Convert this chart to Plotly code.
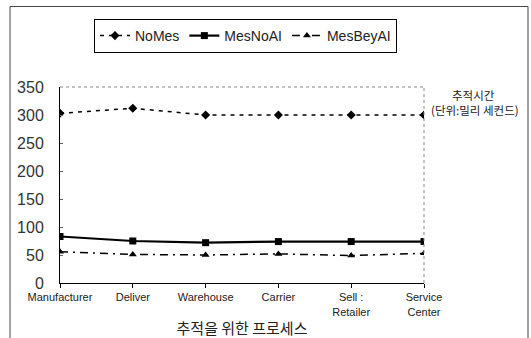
import plotly.graph_objects as go

categories = ["Manufacturer", "Deliver", "Warehouse", "Carrier", "Sell :<br>Retailer", "Service<br>Center"]
no_mes = [303, 312, 300, 300, 300, 300]
mes_no_ai = [83, 75, 72, 74, 74, 74]
mes_bey_ai = [56, 51, 50, 52, 49, 53]
y_ticks = [0, 50, 100, 150, 200, 250, 300, 350]

xs = list(range(len(categories)))
fig = go.Figure()
fig.add_trace(go.Scatter(x=xs, y=no_mes, name="NoMes", mode="lines+markers",
                         line=dict(color="black", width=1.5, dash="4px,5px"),
                         marker=dict(symbol="diamond", size=7, color="black")))
fig.add_trace(go.Scatter(x=xs, y=mes_no_ai, name="MesNoAI", mode="lines+markers",
                         line=dict(color="black", width=2.2),
                         marker=dict(symbol="square", size=7, color="black")))
fig.add_trace(go.Scatter(x=xs, y=mes_bey_ai, name="MesBeyAI", mode="lines+markers",
                         line=dict(color="black", width=1.5, dash="8px,5px,2px,5px"),
                         marker=dict(symbol="triangle-up", size=7, color="black")))

fig.update_layout(
    width=531, height=338,
    margin=dict(l=60, r=107, t=87, b=55, autoexpand=False),
    paper_bgcolor="white", plot_bgcolor="white",
    font=dict(family="Arial, Liberation Sans, sans-serif", color="#222"),
    showlegend=True,
    legend=dict(orientation="h", x=(94 - 60) / 364, y=1 + (87 - 19) / 196,
                xref="paper", yref="paper",
                xanchor="left", yanchor="top",
                bordercolor="black", borderwidth=1, bgcolor="white",
                font=dict(size=14), itemwidth=30, tracegroupgap=0),
    xaxis=dict(range=[0, 5], tickmode="array", tickvals=xs, ticktext=categories,
               showgrid=False, zeroline=False, showline=True, linecolor="black",
               linewidth=1, ticks="outside", ticklen=4, tickcolor="black",
               automargin=False,
               tickfont=dict(size=11, family="Arial, Liberation Sans", color="#222"),
               title=dict(text="추적을 위한 프로세스", standoff=6,
                          font=dict(size=15, family="Noto Sans CJK KR"))),
    yaxis=dict(range=[0, 350], tickvals=y_ticks, showgrid=False, zeroline=False,
               showline=True, linecolor="black", linewidth=1,
               ticks="inside", ticklen=3, tickcolor="#666", automargin=False,
               ticklabelstandoff=12,
               tickfont=dict(size=16, color="#333")),
)
# dotted top and right borders of plot area
fig.add_shape(type="line", xref="paper", yref="paper", x0=0, x1=1, y0=1, y1=1,
              line=dict(color="#888", width=1, dash="dot"))
fig.add_shape(type="line", xref="paper", yref="paper", x0=1, x1=1, y0=0, y1=1,
              line=dict(color="#888", width=1, dash="dot"))
# outer frame
fig.add_shape(type="rect", xref="paper", yref="paper",
              x0=(10 - 60) / 364, x1=(528 - 60) / 364,
              y0=-70 / 196, y1=1 + (87 - 6.5) / 196,
              line=dict(color="#444", width=1), fillcolor="rgba(0,0,0,0)", layer="below")
fig.add_annotation(text="추적시간", xref="paper", yref="paper",
                   x=(473 - 60) / 364, y=1 - (95 - 87) / 196, xanchor="center", yanchor="middle",
                   showarrow=False, font=dict(size=11.5, family="Noto Sans CJK KR", color="#222"))
fig.add_annotation(text="(단위:밀리 세컨드)", xref="paper", yref="paper",
                   x=(475 - 60) / 364, y=1 - (110 - 87) / 196, xanchor="center", yanchor="middle",
                   showarrow=False, font=dict(size=11.5, family="Noto Sans CJK KR", color="#222"))
fig.write_html("out.html", config={"displayModeBar": False},
               post_script="document.body.style.margin='0';document.body.style.overflow='hidden';")
